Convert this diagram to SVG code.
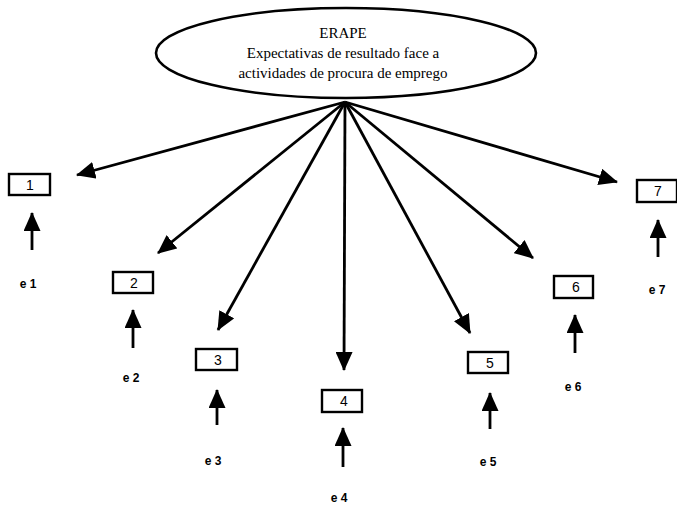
<svg xmlns="http://www.w3.org/2000/svg" width="677" height="505" viewBox="0 0 677 505">
<style>
.box{fill:#fff;stroke:#000;stroke-width:2.4}
.num{font-family:"Liberation Sans",Arial,sans-serif;font-size:14px;fill:#000;text-anchor:middle}
.lab{font-family:"Liberation Sans",Arial,sans-serif;font-size:12px;font-weight:bold;fill:#000;text-anchor:middle}
.ttl{font-family:"Liberation Serif","Times New Roman",serif;font-size:15px;fill:#000;text-anchor:middle}
.con{stroke:#000;stroke-width:2.8;fill:none;marker-end:url(#ah)}
</style>
<defs>
<marker id="ah" viewBox="0 0 19 17" refX="18" refY="8.5" markerWidth="19" markerHeight="17" markerUnits="userSpaceOnUse" orient="auto">
<path d="M0,0 L19,8.5 L0,17 Z" fill="#000"/>
</marker>
</defs>
<rect width="677" height="505" fill="#fff"/>
<g id="erape">
<ellipse cx="346" cy="53" rx="190" ry="45" fill="#fff" stroke="#000" stroke-width="2.6"/>
<text class="ttl" x="343" y="38">ERAPE</text>
<text class="ttl" x="343" y="58">Expectativas de resultado face a</text>
<text class="ttl" x="343" y="78">actividades de procura de emprego</text>
</g>
<g id="connectors">
<line class="con" x1="345" y1="102" x2="77" y2="175"/>
<line class="con" x1="345" y1="102" x2="158" y2="253"/>
<line class="con" x1="345" y1="102" x2="218" y2="330"/>
<line class="con" x1="345" y1="102" x2="344" y2="370"/>
<line class="con" x1="345" y1="102" x2="470" y2="333"/>
<line class="con" x1="345" y1="102" x2="533" y2="258"/>
<line class="con" x1="345" y1="102" x2="617" y2="182"/>
<line class="con" x1="32" y1="250" x2="32" y2="213"/>
<line class="con" x1="133" y1="348" x2="133" y2="310"/>
<line class="con" x1="217" y1="425" x2="217" y2="390"/>
<line class="con" x1="343" y1="467" x2="343" y2="428"/>
<line class="con" x1="490" y1="429" x2="490" y2="393"/>
<line class="con" x1="575" y1="353" x2="575" y2="315"/>
<line class="con" x1="658" y1="257" x2="658" y2="220"/>
</g>
<g id="v1"><rect class="box" x="9" y="174" width="41" height="21"/><text class="num" x="30" y="190">1</text></g>
<g id="v2"><rect class="box" x="113" y="272" width="40" height="21"/><text class="num" x="134" y="288">2</text></g>
<g id="v3"><rect class="box" x="196" y="349" width="41" height="21"/><text class="num" x="218" y="365">3</text></g>
<g id="v4"><rect class="box" x="322" y="390" width="40" height="22"/><text class="num" x="344" y="406">4</text></g>
<g id="v5"><rect class="box" x="468" y="352" width="40" height="21"/><text class="num" x="490" y="368">5</text></g>
<g id="v6"><rect class="box" x="554" y="276" width="39" height="22"/><text class="num" x="576" y="292">6</text></g>
<g id="v7"><rect class="box" x="637" y="180" width="40" height="22"/><text class="num" x="658" y="196">7</text></g>
<g id="e1"><text class="lab" x="28" y="288">e 1</text></g>
<g id="e2"><text class="lab" x="131" y="382">e 2</text></g>
<g id="e3"><text class="lab" x="213" y="465">e 3</text></g>
<g id="e4"><text class="lab" x="339" y="502">e 4</text></g>
<g id="e5"><text class="lab" x="488" y="466">e 5</text></g>
<g id="e6"><text class="lab" x="573" y="391">e 6</text></g>
<g id="e7"><text class="lab" x="657" y="294">e 7</text></g>
</svg>
